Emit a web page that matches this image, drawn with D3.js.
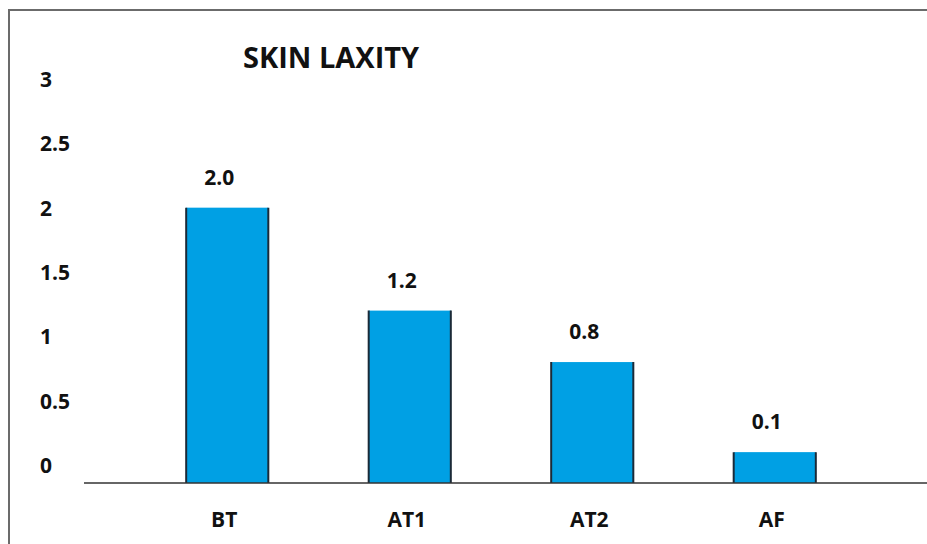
<!DOCTYPE html>
<html>
<head>
<meta charset="utf-8">
<script src="https://cdn.jsdelivr.net/npm/d3@7"></script>
<style>
  html, body { margin: 0; padding: 0; background: #ffffff; }
  svg { display: block; }
  text { font-family: "Open Sans", "Liberation Sans", sans-serif; font-weight: 700; fill: #111; }
</style>
</head>
<body>
<svg id="chart" width="927" height="544"></svg>
<script>
// Skin laxity scores per assessment stage
const categories = ["BT", "AT1", "AT2", "AF"];
const values = [2.0, 1.2, 0.8, 0.1];
const valueLabels = ["2.0", "1.2", "0.8", "0.1"];
const yTicks = [0, 0.5, 1, 1.5, 2, 2.5, 3];
const title = "SKIN LAXITY";

const W = 927, H = 544;
const svg = d3.select("#chart");

// Frame (top and left edges)
svg.append("path")
  .attr("d", `M9,${H} L9,10 L${W},10`)
  .attr("fill", "none")
  .attr("stroke", "#6b6b6b")
  .attr("stroke-width", 2);

const y = d3.scaleLinear().domain([0, 3]).range([465, 79]);
const baseline = 483;

const x = d3.scaleBand()
  .domain(categories)
  .range([136, 866])
  .paddingInner(0.55)
  .paddingOuter(0.275);

// Y tick labels (no axis line, no tick marks)
const yAxis = d3.axisLeft(y).tickValues(yTicks).tickSize(0)
  .tickFormat(d => d3.format("~g")(d));
const gy = svg.append("g").attr("transform", "translate(40,0)").call(yAxis);
gy.select(".domain").remove();
gy.selectAll("text")
  .attr("text-anchor", "start")
  .attr("x", 0)
  .attr("dy", "0.35em")
  .style("font-size", "21px")
  .style("font-family", "'Open Sans', 'Liberation Sans', sans-serif")
  .style("font-weight", 700)
  .attr("fill", "#111");

// Bars
const bars = svg.append("g");
bars.selectAll("rect")
  .data(values)
  .join("rect")
  .attr("x", (d, i) => x(categories[i]))
  .attr("y", d => y(d))
  .attr("width", x.bandwidth())
  .attr("height", d => baseline - y(d))
  .attr("fill", "#00a0e4");

// Dark side edges of the bars
bars.selectAll("path.edge")
  .data(values)
  .join("path")
  .attr("class", "edge")
  .attr("d", (d, i) => {
    const x0 = x(categories[i]), x1 = x0 + x.bandwidth();
    return `M${x0},${baseline} L${x0},${y(d)} M${x1},${y(d)} L${x1},${baseline}`;
  })
  .attr("stroke", "#1b2a38")
  .attr("stroke-width", 2)
  .attr("fill", "none");

// Category axis line
svg.append("line")
  .attr("x1", 84).attr("x2", W)
  .attr("y1", baseline).attr("y2", baseline)
  .attr("stroke", "#333")
  .attr("stroke-width", 1.5);

// Category labels
svg.append("g").selectAll("text")
  .data(categories)
  .join("text")
  .attr("x", d => x(d) + x.bandwidth() / 2 - 3)
  .attr("y", 520)
  .attr("dy", "0.35em")
  .attr("text-anchor", "middle")
  .style("font-size", "21px")
  .text(d => d);

// Value labels above bars
svg.append("g").selectAll("text")
  .data(values)
  .join("text")
  .attr("x", (d, i) => x(categories[i]) + x.bandwidth() / 2 - 8)
  .attr("y", d => y(d) - 30)
  .attr("dy", "0.35em")
  .attr("text-anchor", "middle")
  .style("font-size", "21px")
  .text((d, i) => valueLabels[i]);

// Title
svg.append("text")
  .attr("x", 243)
  .attr("y", 58)
  .attr("dy", "0.35em")
  .attr("text-anchor", "start")
  .style("font-size", "29px")
  .text(title);
</script>
</body>
</html>
